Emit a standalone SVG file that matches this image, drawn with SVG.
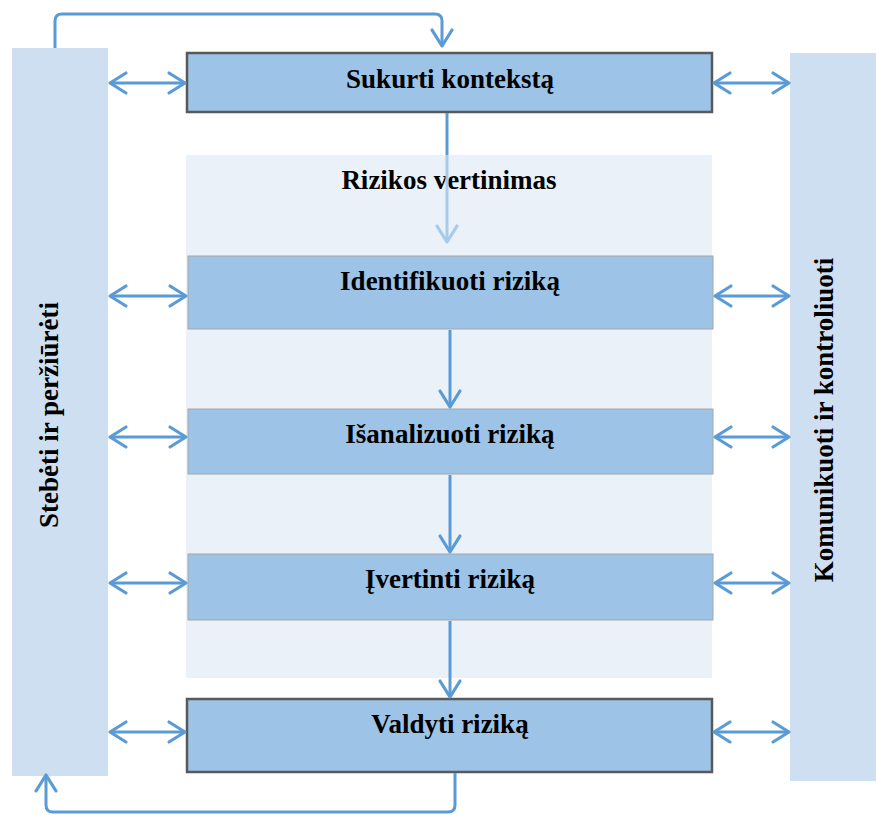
<svg xmlns="http://www.w3.org/2000/svg" width="876" height="815" viewBox="0 0 876 815">
  <style>
    .label { font-family: "Liberation Serif", "Times New Roman", serif; font-weight: bold; font-size: 27px; fill: #000; text-anchor: middle; }
    .side { fill: #cddff0; }
    .step { fill: #9dc3e6; stroke: #a6a6a6; stroke-width: 1; }
    .key { fill: #9dc3e6; stroke: #595959; stroke-width: 2.5; }
    .link { fill: none; stroke: #5b9bd5; stroke-width: 3; stroke-linejoin: round; }
    .link-soft { fill: none; stroke: #a8caeb; stroke-width: 3; }
  </style>
  <defs>
    <marker id="head" markerUnits="userSpaceOnUse" markerWidth="40" markerHeight="40" refX="0" refY="0" viewBox="-20 -20 40 40" orient="auto-start-reverse" overflow="visible">
      <path d="M-16,-10 L0,0 L-16,10" fill="none" stroke="#5b9bd5" stroke-width="3.2" stroke-linecap="round" stroke-linejoin="round"/>
    </marker>
    <marker id="head-soft" markerUnits="userSpaceOnUse" markerWidth="40" markerHeight="40" refX="0" refY="0" viewBox="-20 -20 40 40" orient="auto" overflow="visible">
      <path d="M-16,-10 L0,0 L-16,10" fill="none" stroke="#a8caeb" stroke-width="3.2" stroke-linecap="round" stroke-linejoin="round"/>
    </marker>
  </defs>

  <!-- side bars -->
  <g id="monitor">
    <rect class="side" x="12" y="48" width="96" height="728"/>
    <text class="label" transform="translate(58,415) rotate(-90)">Stebėti ir peržiūrėti</text>
  </g>
  <g id="communicate">
    <rect class="side" x="790" y="53" width="86" height="728"/>
    <text class="label" transform="translate(833,420) rotate(-90)">Komunikuoti ir kontroliuoti</text>
  </g>

  <!-- risk assessment panel -->
  <g id="assessment">
    <rect x="186" y="155" width="526" height="523" fill="#eaf1f9"/>
    <text class="label" x="449" y="189">Rizikos vertinimas</text>
  </g>

  <!-- process steps -->
  <g id="context">
    <rect class="key" x="187" y="53" width="525" height="59"/>
    <text class="label" x="450" y="88">Sukurti kontekstą</text>
  </g>
  <g id="identify">
    <rect class="step" x="188" y="256" width="525" height="73"/>
    <text class="label" x="450" y="290">Identifikuoti riziką</text>
  </g>
  <g id="analyse">
    <rect class="step" x="188" y="409" width="525" height="65"/>
    <text class="label" x="450" y="443">Išanalizuoti riziką</text>
  </g>
  <g id="evaluate">
    <rect class="step" x="188" y="554" width="525" height="66"/>
    <text class="label" x="450" y="588">Įvertinti riziką</text>
  </g>
  <g id="treat">
    <rect class="key" x="187" y="699" width="525" height="73"/>
    <text class="label" x="450" y="733">Valdyti riziką</text>
  </g>

  <!-- connectors -->
  <g id="connectors">
    <!-- feedback loops -->
    <path class="link" d="M55,48 V21 Q55,14 62,14 H435 Q442,14 442,21 V46" marker-end="url(#head)"/>
    <path class="link" d="M455,773 V805 Q455,812 448,812 H53 Q46,812 46,805 V775" marker-end="url(#head)"/>

    <!-- main flow -->
    <path class="link" d="M447,113 V155"/>
    <path class="link-soft" d="M447,155 V242" marker-end="url(#head-soft)"/>
    <path class="link" d="M450,330 V407" marker-end="url(#head)"/>
    <path class="link" d="M450,475 V552" marker-end="url(#head)"/>
    <path class="link" d="M450,621 V697" marker-end="url(#head)"/>

    <!-- links to the monitoring bar -->
    <path class="link" d="M110,83 H185" marker-start="url(#head)" marker-end="url(#head)"/>
    <path class="link" d="M110,296 H186" marker-start="url(#head)" marker-end="url(#head)"/>
    <path class="link" d="M110,437 H186" marker-start="url(#head)" marker-end="url(#head)"/>
    <path class="link" d="M110,583 H186" marker-start="url(#head)" marker-end="url(#head)"/>
    <path class="link" d="M110,732 H185" marker-start="url(#head)" marker-end="url(#head)"/>

    <!-- links to the communication bar -->
    <path class="link" d="M714,83 H789" marker-start="url(#head)" marker-end="url(#head)"/>
    <path class="link" d="M715,296 H789" marker-start="url(#head)" marker-end="url(#head)"/>
    <path class="link" d="M715,437 H789" marker-start="url(#head)" marker-end="url(#head)"/>
    <path class="link" d="M715,583 H789" marker-start="url(#head)" marker-end="url(#head)"/>
    <path class="link" d="M714,732 H789" marker-start="url(#head)" marker-end="url(#head)"/>
  </g>
</svg>
